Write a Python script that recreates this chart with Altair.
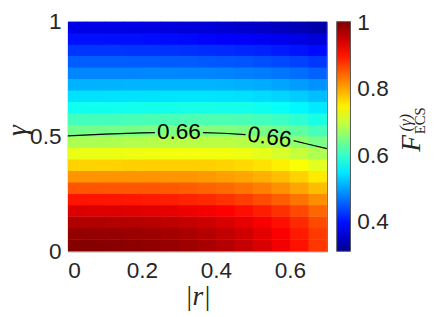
import altair as alt
import pandas as pd

# cell edges of the sampled grid
r_edges = [0.0, 0.05, 0.10, 0.15, 0.20, 0.25, 0.30, 0.35, 0.40, 0.45, 0.50, 0.55, 0.60, 0.65, 0.70]
gamma_edges = [0.0, 0.05, 0.10, 0.15, 0.20, 0.25, 0.30, 0.35, 0.40, 0.45, 0.50,
               0.55, 0.60, 0.65, 0.70, 0.75, 0.80, 0.85, 0.90, 0.95, 1.0]

# F_ECS^(gamma); rows go from gamma=0.025 (bottom) to 0.975 (top),
# columns from |r|=0.025 to 0.675
F_rows = [
    [0.999, 0.998, 0.997, 0.995, 0.992, 0.988, 0.982, 0.975, 0.966, 0.955, 0.941, 0.924, 0.903, 0.878],
    [0.989, 0.988, 0.987, 0.985, 0.982, 0.978, 0.973, 0.966, 0.958, 0.947, 0.934, 0.918, 0.898, 0.875],
    [0.970, 0.969, 0.968, 0.967, 0.964, 0.960, 0.956, 0.950, 0.942, 0.932, 0.920, 0.905, 0.887, 0.865],
    [0.940, 0.939, 0.938, 0.937, 0.935, 0.932, 0.928, 0.922, 0.915, 0.906, 0.895, 0.882, 0.865, 0.845],
    [0.901, 0.901, 0.900, 0.899, 0.897, 0.894, 0.891, 0.887, 0.881, 0.873, 0.863, 0.851, 0.836, 0.818],
    [0.857, 0.857, 0.856, 0.856, 0.855, 0.853, 0.851, 0.847, 0.842, 0.836, 0.827, 0.816, 0.802, 0.785],
    [0.814, 0.814, 0.814, 0.814, 0.814, 0.813, 0.812, 0.810, 0.806, 0.801, 0.794, 0.784, 0.771, 0.754],
    [0.770, 0.770, 0.771, 0.772, 0.773, 0.773, 0.773, 0.772, 0.770, 0.766, 0.760, 0.751, 0.738, 0.720],
    [0.725, 0.726, 0.727, 0.728, 0.730, 0.731, 0.732, 0.732, 0.731, 0.728, 0.722, 0.713, 0.701, 0.684],
    [0.683, 0.684, 0.685, 0.687, 0.689, 0.691, 0.692, 0.693, 0.693, 0.690, 0.685, 0.677, 0.665, 0.648],
    [0.644, 0.645, 0.646, 0.648, 0.650, 0.652, 0.654, 0.655, 0.655, 0.653, 0.649, 0.641, 0.630, 0.613],
    [0.610, 0.611, 0.612, 0.613, 0.615, 0.616, 0.618, 0.618, 0.618, 0.616, 0.612, 0.606, 0.596, 0.582],
    [0.575, 0.575, 0.576, 0.577, 0.578, 0.579, 0.580, 0.580, 0.579, 0.578, 0.574, 0.569, 0.561, 0.550],
    [0.544, 0.544, 0.545, 0.545, 0.546, 0.547, 0.547, 0.547, 0.546, 0.544, 0.541, 0.536, 0.530, 0.521],
    [0.513, 0.513, 0.513, 0.514, 0.514, 0.514, 0.514, 0.514, 0.513, 0.511, 0.508, 0.503, 0.498, 0.490],
    [0.482, 0.482, 0.482, 0.482, 0.483, 0.483, 0.482, 0.482, 0.480, 0.478, 0.475, 0.471, 0.466, 0.458],
    [0.454, 0.454, 0.454, 0.454, 0.454, 0.453, 0.453, 0.451, 0.450, 0.448, 0.444, 0.440, 0.435, 0.428],
    [0.426, 0.426, 0.426, 0.425, 0.425, 0.424, 0.423, 0.421, 0.419, 0.416, 0.413, 0.408, 0.403, 0.396],
    [0.400, 0.400, 0.399, 0.399, 0.398, 0.397, 0.395, 0.393, 0.390, 0.387, 0.383, 0.378, 0.372, 0.365],
    [0.373, 0.373, 0.372, 0.371, 0.370, 0.368, 0.365, 0.363, 0.359, 0.355, 0.351, 0.345, 0.339, 0.332],
]

# 0.66 contour line, broken where its labels sit
contour_r = [0.0, 0.10, 0.20, 0.235, 0.365, 0.42, 0.48, 0.61, 0.65, 0.70]
contour_gamma = [0.503, 0.510, 0.516, 0.517, 0.517, 0.514, 0.508, 0.482, 0.466, 0.447]
contour_seg = [1, 1, 1, 1, 2, 2, 2, 3, 3, 3]

label_r = [0.300, 0.545]
label_gamma = [0.517, 0.496]
label_text = ["0.66", "0.66"]
label_angle = [0, 8]

x_ticks = [0, 0.2, 0.4, 0.6]
y_ticks = [0, 0.5, 1]
cbar_ticks = [0.4, 0.6, 0.8, 1.0]

# jet colormap
jet_domain = [0.313, 0.390, 0.565, 0.740, 0.915, 1.003]
jet_colors = ["#000090", "#0000ff", "#00ffff", "#ffff00", "#ff0000", "#800000"]

cells = []
for i, row in enumerate(F_rows):
    for j, v in enumerate(row):
        cells.append({"r0": r_edges[j], "r1": r_edges[j + 1],
                      "g0": gamma_edges[i], "g1": gamma_edges[i + 1], "F": v})
cells = pd.DataFrame(cells)
contour = pd.DataFrame({"r": contour_r, "g": contour_gamma, "seg": contour_seg})
labels = pd.DataFrame({"r": label_r, "g": label_gamma, "t": label_text, "a": label_angle})

H = 234
xscale = alt.Scale(domain=[0, 0.7], nice=False, zero=False)
yscale = alt.Scale(domain=[0, 1], nice=False, zero=False)
cscale = alt.Scale(domain=jet_domain, range=jet_colors, interpolate="rgb")

# cells overlap by a fraction of a pixel so no background shows between them
heat = alt.Chart(cells).transform_calculate(
    r1o="datum.r1 + 0.0018", g1o="datum.g1 + 0.0028"
).mark_rect(clip=True).encode(
    x=alt.X("r0:Q", scale=xscale,
            axis=alt.Axis(values=x_ticks, format=".1~f", title="|r|", titlePadding=0,
                          labelPadding=9, ticks=False, tickSize=0, domain=False, grid=False)),
    x2="r1o:Q",
    y=alt.Y("g0:Q", scale=yscale,
            axis=alt.Axis(values=y_ticks, format=".1~f", title=None,
                          labelPadding=7, ticks=False, tickSize=0, domain=False, grid=False)),
    y2="g1o:Q",
    color=alt.Color("F:Q", scale=cscale,
                    legend=alt.Legend(type="gradient", title=None, orient="right", offset=7,
                                      padding=0, direction="vertical",
                                      gradientLength=H, gradientThickness=14,
                                      gradientStrokeColor="#555", gradientStrokeWidth=1,
                                      values=cbar_ticks, format=".1~f",
                                      labelFont="Liberation Sans", labelFontSize=23,
                                      labelColor="#262626", labelOffset=7)),
)

line = alt.Chart(contour).mark_line(color="black", strokeWidth=1.2).encode(
    x="r:Q", y="g:Q", detail="seg:N", order="r:Q"
)

text = alt.Chart(labels).mark_text(font="Liberation Sans", fontSize=23, color="black",
                                   align="center", baseline="middle").encode(
    x="r:Q", y="g:Q", text="t:N", angle=alt.Angle("a:Q", scale=None)
)

one = pd.DataFrame({"k": [0]})
t_gamma = alt.Chart(one).mark_text(font="Liberation Serif", fontStyle="italic", fontSize=28,
                                   angle=270, color="#262626", align="center", baseline="middle").encode(
    x=alt.value(-51), y=alt.value(H / 2 - 6), text=alt.value("γ"))
t_F = alt.Chart(one).mark_text(font="Liberation Serif", fontStyle="italic", fontSize=28,
                               angle=270, color="#262626", align="center", baseline="middle").encode(
    x=alt.value(351), y=alt.value(124), text=alt.value("F"))
t_sup = alt.Chart(one).mark_text(font="Liberation Serif", fontStyle="italic", fontSize=17,
                                 angle=270, color="#262626", align="center", baseline="middle").encode(
    x=alt.value(345), y=alt.value(103), text=alt.value("(γ)"))
t_sub = alt.Chart(one).mark_text(font="Liberation Serif", fontSize=15,
                                 angle=270, color="#262626", align="center", baseline="middle").encode(
    x=alt.value(359), y=alt.value(101), text=alt.value("ECS"))

chart = alt.layer(heat, line, text, t_gamma, t_F, t_sup, t_sub).properties(
    width=264, height=H,
    autosize=alt.AutoSizeParams(type="none"),
    padding={"left": 61, "top": 11, "right": 103, "bottom": 62},
).configure_view(stroke="#666", strokeWidth=1).configure_axis(
    labelFont="Liberation Sans", labelFontSize=23, labelColor="#262626",
    titleFont="Liberation Serif", titleFontSize=28, titleFontStyle="italic",
    titleFontWeight="normal", titleColor="#262626",
)

chart.save("out.html", embed_options={"renderer": "svg", "actions": False})
